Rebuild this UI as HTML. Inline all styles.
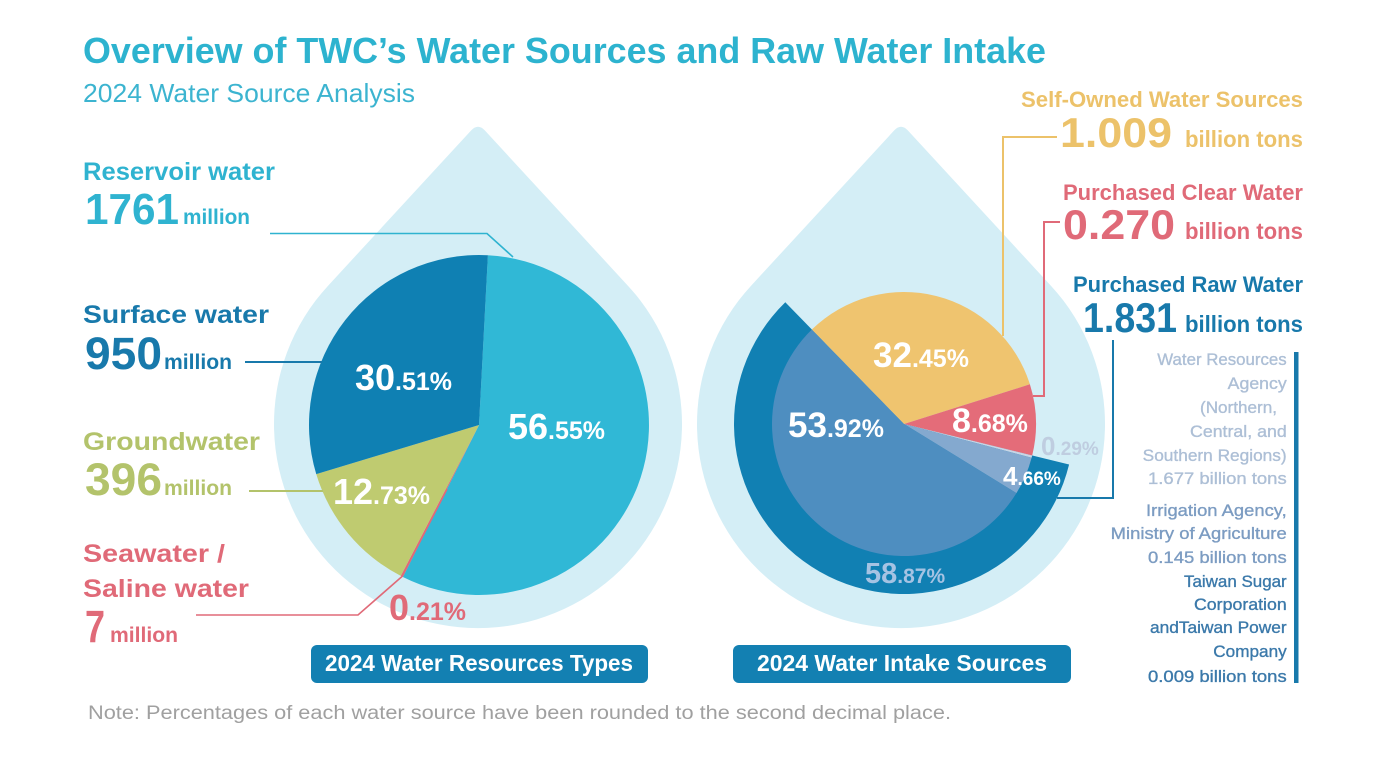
<!DOCTYPE html>
<html>
<head>
<meta charset="utf-8">
<style>
html,body{margin:0;padding:0;background:#ffffff;}
svg{display:block;}
text{font-family:"Liberation Sans",Arial,sans-serif;}
</style>
</head>
<body>
<svg width="1380" height="759" viewBox="0 0 1380 759" xmlns="http://www.w3.org/2000/svg">
<rect width="1380" height="759" fill="#ffffff"/>

<!-- Title -->
<text x="83" y="63" font-size="36" font-weight="700" fill="#2db3cf" textLength="963" lengthAdjust="spacingAndGlyphs">Overview of TWC’s Water Sources and Raw Water Intake</text>
<text x="83" y="102" font-size="26" fill="#3cb4d0" textLength="332" lengthAdjust="spacingAndGlyphs">2024 Water Source Analysis</text>

<!-- Drops -->
<path d="M328.1,285.7 L471.2,130.4 Q478,123 484.8,130.4 L627.9,285.7 A204,204 0 1 1 328.1,285.7 Z" fill="#d4eef6"/>
<path d="M751.1,285.7 L894.2,130.4 Q901,123 907.8,130.4 L1050.9,285.7 A204,204 0 1 1 751.1,285.7 Z" fill="#d4eef6"/>

<!-- Left pie -->
<path d="M479,425 L487.90,255.23 A170,170 0 1 1 402.88,577.01 Z" fill="#30b8d6"/>
<path d="M479,425 L402.88,577.01 A170,170 0 0 1 400.77,575.93 Z" fill="#e06a78"/>
<path d="M479,425 L400.77,575.93 A170,170 0 0 1 316.26,474.14 Z" fill="#bfcb70"/>
<path d="M479,425 L316.26,474.14 A170,170 0 0 1 487.90,255.23 Z" fill="#0f80b3"/>

<!-- Right pie -->
<path d="M904,424 L1069.09,464.55 A170,170 0 1 1 785.29,302.31 Z" fill="#1180b3"/>
<path d="M904,424 L811.83,329.51 A132,132 0 0 1 1029.89,384.31 Z" fill="#efc46f"/>
<path d="M904,424 L1029.89,384.31 A132,132 0 0 1 1032.19,455.49 Z" fill="#e46c79"/>
<path d="M904,424 L1032.19,455.49 A132,132 0 0 1 1031.62,457.72 Z" fill="#c8d5e5"/>
<path d="M904,424 L1031.62,457.72 A132,132 0 0 1 1016.43,493.17 Z" fill="#84a9cf"/>
<path d="M904,424 L1016.43,493.17 A132,132 0 1 1 811.83,329.51 Z" fill="#4e8ec0"/>

<!-- Leader lines left -->
<polyline points="270,233.5 487,233.5 513,257" fill="none" stroke="#2fb3d0" stroke-width="1.6"/>
<line x1="245" y1="362" x2="322" y2="362" stroke="#1879ab" stroke-width="2"/>
<line x1="249" y1="491" x2="323" y2="491" stroke="#b3c36b" stroke-width="2"/>
<polyline points="196,615 358,615 402,576.5 447,489" fill="none" stroke="#e06a78" stroke-width="1.6"/>

<!-- Leader lines right -->
<polyline points="1057,137 1003,137 1003,336" fill="none" stroke="#ecc26a" stroke-width="2"/>
<polyline points="1060,222 1044,222 1044,396 1033,396" fill="none" stroke="#e06a78" stroke-width="2"/>
<polyline points="1113,340 1113,498 1057,498" fill="none" stroke="#1879ab" stroke-width="2"/>
<rect x="1294" y="352" width="4.5" height="331" fill="#1879ab"/>

<!-- Left labels -->
<text x="83" y="180" font-size="25" font-weight="700" fill="#2fb3d0" textLength="192" lengthAdjust="spacingAndGlyphs">Reservoir water</text>
<text x="85" y="224" font-size="44" font-weight="700" fill="#2fb3d0" textLength="94" lengthAdjust="spacingAndGlyphs">1761</text>
<text x="183" y="224" font-size="21" font-weight="700" fill="#2fb3d0" textLength="67" lengthAdjust="spacingAndGlyphs">million</text>

<text x="83" y="323" font-size="25" font-weight="700" fill="#1879ab" textLength="186" lengthAdjust="spacingAndGlyphs">Surface water</text>
<text x="85" y="369" font-size="45" font-weight="700" fill="#1879ab" textLength="77" lengthAdjust="spacingAndGlyphs">950</text>
<text x="164" y="369" font-size="21" font-weight="700" fill="#1879ab" textLength="68" lengthAdjust="spacingAndGlyphs">million</text>

<text x="83" y="450" font-size="25" font-weight="700" fill="#b3c36b" textLength="177" lengthAdjust="spacingAndGlyphs">Groundwater</text>
<text x="85" y="495" font-size="45" font-weight="700" fill="#b3c36b" textLength="77" lengthAdjust="spacingAndGlyphs">396</text>
<text x="164" y="495" font-size="21" font-weight="700" fill="#b3c36b" textLength="68" lengthAdjust="spacingAndGlyphs">million</text>

<text x="83" y="562" font-size="25" font-weight="700" fill="#e06a78" textLength="142" lengthAdjust="spacingAndGlyphs">Seawater /</text>
<text x="83" y="597" font-size="25" font-weight="700" fill="#e06a78" textLength="166" lengthAdjust="spacingAndGlyphs">Saline water</text>
<text x="85" y="642" font-size="45" font-weight="700" fill="#e06a78" textLength="20" lengthAdjust="spacingAndGlyphs">7</text>
<text x="110" y="642" font-size="21" font-weight="700" fill="#e06a78" textLength="68" lengthAdjust="spacingAndGlyphs">million</text>

<!-- Left pie labels -->
<text x="355" y="390" font-weight="700" fill="#ffffff"><tspan font-size="36">30</tspan><tspan font-size="25">.51%</tspan></text>
<text x="508" y="439" font-weight="700" fill="#ffffff"><tspan font-size="36">56</tspan><tspan font-size="25">.55%</tspan></text>
<text x="333" y="504" font-weight="700" fill="#ffffff"><tspan font-size="36">12</tspan><tspan font-size="25">.73%</tspan></text>
<text x="389" y="620" font-weight="700" fill="#e06a78"><tspan font-size="36">0</tspan><tspan font-size="25">.21%</tspan></text>

<!-- Right pie labels -->
<text x="873" y="367" font-weight="700" fill="#ffffff"><tspan font-size="35">32</tspan><tspan font-size="25">.45%</tspan></text>
<text x="788" y="437" font-weight="700" fill="#ffffff"><tspan font-size="35">53</tspan><tspan font-size="25">.92%</tspan></text>
<text x="952" y="432" font-weight="700" fill="#ffffff"><tspan font-size="34">8</tspan><tspan font-size="25">.68%</tspan></text>
<text x="1041" y="455" font-weight="700" fill="#bfcde0"><tspan font-size="26">0</tspan><tspan font-size="19">.29%</tspan></text>
<text x="1003" y="485" font-weight="700" fill="#ffffff"><tspan font-size="26">4</tspan><tspan font-size="19">.66%</tspan></text>
<text x="865" y="583" font-weight="700" fill="#a5c3e3"><tspan font-size="29">58</tspan><tspan font-size="21">.87%</tspan></text>

<!-- Right labels -->
<text x="1021" y="107" font-size="22" font-weight="700" fill="#ecc26a" textLength="282" lengthAdjust="spacingAndGlyphs">Self-Owned Water Sources</text>
<text x="1060" y="147" font-size="42" font-weight="700" fill="#ecc26a" textLength="112" lengthAdjust="spacingAndGlyphs">1.009</text>
<text x="1185" y="147" font-size="23" font-weight="700" fill="#ecc26a" textLength="118" lengthAdjust="spacingAndGlyphs">billion tons</text>

<text x="1063" y="200" font-size="22" font-weight="700" fill="#e06a78" textLength="240" lengthAdjust="spacingAndGlyphs">Purchased Clear Water</text>
<text x="1063" y="239" font-size="42" font-weight="700" fill="#e06a78" textLength="112" lengthAdjust="spacingAndGlyphs">0.270</text>
<text x="1185" y="239" font-size="23" font-weight="700" fill="#e06a78" textLength="118" lengthAdjust="spacingAndGlyphs">billion tons</text>

<text x="1073" y="292" font-size="22" font-weight="700" fill="#1879ab" textLength="230" lengthAdjust="spacingAndGlyphs">Purchased Raw Water</text>
<text x="1083" y="332" font-size="42" font-weight="700" fill="#1879ab" textLength="94" lengthAdjust="spacingAndGlyphs">1.831</text>
<text x="1185" y="332" font-size="23" font-weight="700" fill="#1879ab" textLength="118" lengthAdjust="spacingAndGlyphs">billion tons</text>

<!-- Sub list -->
<g font-size="17" stroke-width="0.35">
<g fill="#adbfd6" stroke="#adbfd6">
<text x="1157.3" y="365" textLength="129.4" lengthAdjust="spacingAndGlyphs">Water Resources</text>
<text x="1227.7" y="389" textLength="59" lengthAdjust="spacingAndGlyphs">Agency</text>
<text x="1200" y="413" textLength="77" lengthAdjust="spacingAndGlyphs">(Northern,</text>
<text x="1190" y="437" textLength="96.7" lengthAdjust="spacingAndGlyphs">Central, and</text>
<text x="1142.7" y="461" textLength="144" lengthAdjust="spacingAndGlyphs">Southern Regions)</text>
<text x="1148" y="484" textLength="138.7" lengthAdjust="spacingAndGlyphs">1.677 billion tons</text>
</g>
<g fill="#7c9cc2" stroke="#7c9cc2">
<text x="1146" y="516" textLength="140.7" lengthAdjust="spacingAndGlyphs">Irrigation Agency,</text>
<text x="1110.7" y="539" textLength="176" lengthAdjust="spacingAndGlyphs">Ministry of Agriculture</text>
<text x="1148" y="563" textLength="138.7" lengthAdjust="spacingAndGlyphs">0.145 billion tons</text>
</g>
<g fill="#3b79aa" stroke="#3b79aa">
<text x="1184" y="587" textLength="102.7" lengthAdjust="spacingAndGlyphs">Taiwan Sugar</text>
<text x="1194" y="610" textLength="92.7" lengthAdjust="spacingAndGlyphs">Corporation</text>
<text x="1150" y="633" textLength="136.7" lengthAdjust="spacingAndGlyphs">andTaiwan Power</text>
<text x="1213.3" y="657" textLength="73.4" lengthAdjust="spacingAndGlyphs">Company</text>
<text x="1148" y="682" textLength="138.7" lengthAdjust="spacingAndGlyphs">0.009 billion tons</text>
</g>
</g>

<!-- Buttons -->
<rect x="311" y="645" width="337" height="38" rx="6" fill="#1380b2"/>
<text x="325" y="671" font-size="23" font-weight="700" fill="#ffffff" textLength="308" lengthAdjust="spacingAndGlyphs">2024 Water Resources Types</text>
<rect x="733" y="645" width="338" height="38" rx="6" fill="#1380b2"/>
<text x="757" y="671" font-size="23" font-weight="700" fill="#ffffff" textLength="290" lengthAdjust="spacingAndGlyphs">2024 Water Intake Sources</text>

<!-- Note -->
<text x="88" y="719" font-size="19" fill="#a0a0a0" textLength="863" lengthAdjust="spacingAndGlyphs">Note: Percentages of each water source have been rounded to the second decimal place.</text>
</svg>
</body>
</html>
